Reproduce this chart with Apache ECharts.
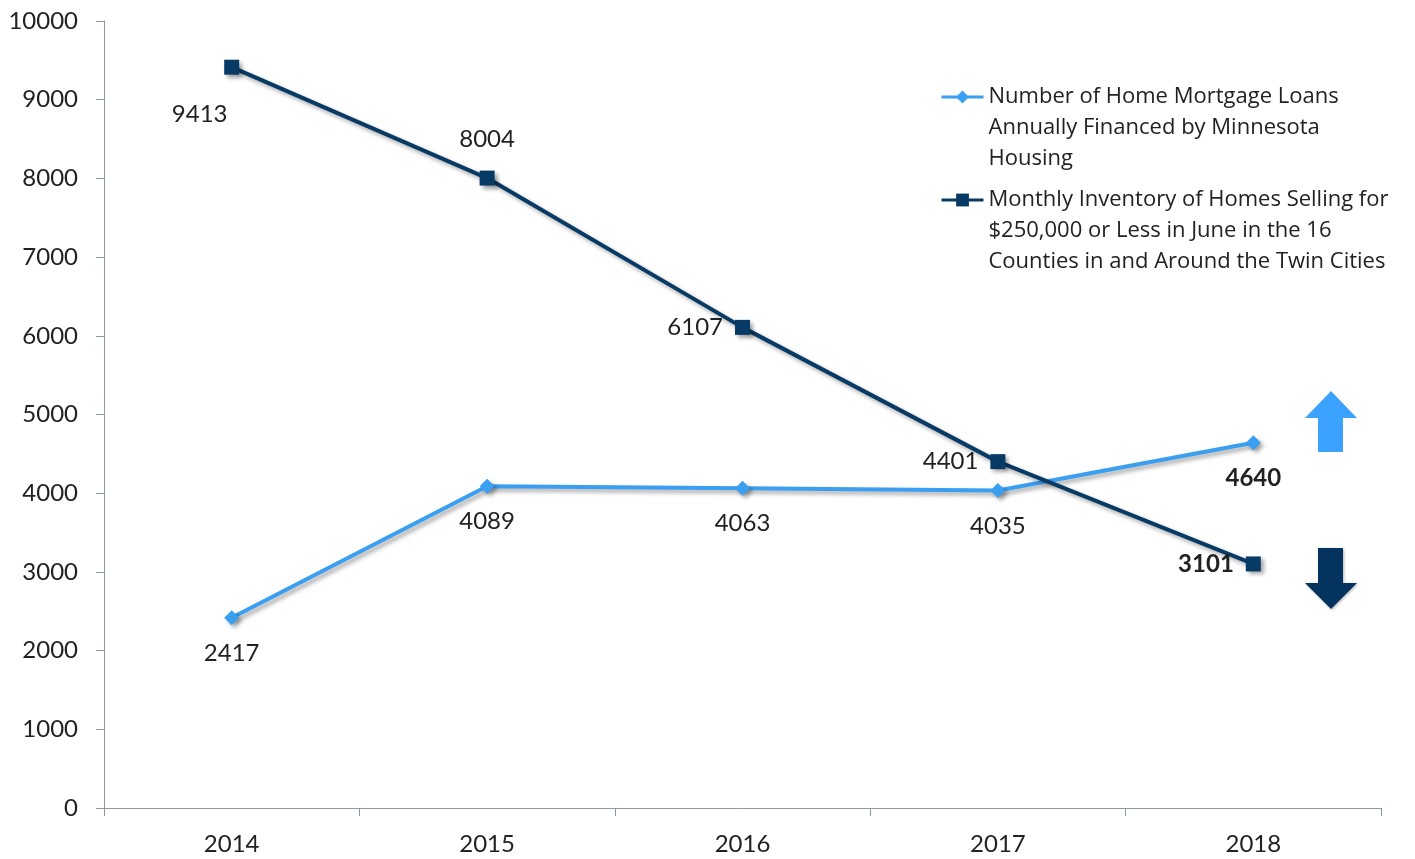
<!DOCTYPE html>
<html><head><meta charset="utf-8">
<script src="https://cdn.jsdelivr.net/npm/echarts@6/dist/echarts.min.js"></script>
<style>html,body{margin:0;padding:0;background:#fff}#c{width:1415px;height:859px}</style>
</head><body><div id="c"></div>
<script>
const categories = ['2014','2015','2016','2017','2018'];
const loans = [2417, 4089, 4063, 4035, 4640];
const inventory = [9413, 8004, 6107, 4401, 3101];
const yTicks = [0,1000,2000,3000,4000,5000,6000,7000,8000,9000,10000];
const loansName = 'Number of Home Mortgage Loans\nAnnually Financed by Minnesota\nHousing';
const invName = 'Monthly Inventory of Homes Selling for\n$250,000 or Less in June in the 16\nCounties in and Around the Twin Cities';

const LIGHT = '#3a9ff0';
const DARK = '#083a66';
const FONT = 'Lato';

const loansLabelPos = ['bottom','bottom','bottom','bottom','bottom'];
const invLabelPos = [[-32,47],'top','left','left','left'];
const boldLast = (i) => i === 4 ? 'bold' : 'normal';

function mkData(vals, pos) {
  return vals.map((v, i) => {
    const p = pos[i];
    const lab = { fontWeight: boldLast(i) };
    if (Array.isArray(p)) { lab.position = 'inside'; lab.offset = p; }
    else { lab.position = p; if (p === 'top') lab.distance = 19; }
    return { value: v, label: lab };
  });
}

const chart = echarts.init(document.getElementById('c'));
const shadow = { shadowColor: 'rgba(0,0,0,0.35)', shadowBlur: 4, shadowOffsetX: 3, shadowOffsetY: 3 };
const legendText = { fontFamily: 'Open Sans', fontSize: 22, color: '#222', lineHeight: 31 };
const legendFmt = (n) => ' \n \n' + n;
const legendBase = { orient: 'vertical', left: 940, padding: 0, itemWidth: 42, itemHeight: 16, textStyle: legendText, formatter: legendFmt, lineStyle: { width: 3 } };
chart.setOption({
  animation: false,
  grid: { left: 104, right: 34, top: 21, bottom: 51 },
  legend: [
    Object.assign({ data: [loansName], top: 19.5 }, legendBase),
    Object.assign({ data: [invName], top: 122.5 }, legendBase)
  ],
  xAxis: {
    type: 'category', data: categories, boundaryGap: true,
    axisLine: { lineStyle: { color: '#8c97a8', width: 1 } },
    axisTick: { show: true, length: 8, lineStyle: { color: '#8c97a8' } },
    axisLabel: { fontFamily: FONT, fontSize: 24, color: '#222', margin: 24 }
  },
  yAxis: {
    type: 'value', min: yTicks[0], max: yTicks[yTicks.length-1], interval: 1000,
    splitLine: { show: false },
    axisLine: { show: true, lineStyle: { color: '#8c97a8', width: 1 } },
    axisTick: { show: true, length: 8, lineStyle: { color: '#8c97a8' } },
    axisLabel: { fontFamily: FONT, fontSize: 24, color: '#222', margin: 26, formatter: (v) => String(v) }
  },
  series: [
    {
      name: loansName, type: 'line', data: mkData(loans, loansLabelPos),
      symbol: 'diamond', symbolSize: 15,
      lineStyle: Object.assign({ color: LIGHT, width: 4 }, shadow),
      itemStyle: Object.assign({ color: LIGHT }, shadow),
      label: { show: true, fontFamily: FONT, fontSize: 24, color: '#222', distance: 16 }
    },
    {
      name: invName, type: 'line', data: mkData(inventory, invLabelPos),
      symbol: 'rect', symbolSize: 15,
      lineStyle: Object.assign({ color: DARK, width: 4 }, shadow),
      itemStyle: Object.assign({ color: DARK }, shadow),
      label: { show: true, fontFamily: FONT, fontSize: 24, color: '#222', distance: 12 }
    }
  ],
  graphic: [
    { type: 'polygon', shape: { points: [[1318,452],[1343,452],[1343,418],[1357,418],[1331,391],[1305,418],[1318,418]] }, style: { fill: '#3ba3ff' } },
    { type: 'polygon', shape: { points: [[1318,548],[1343,548],[1343,583],[1357,583],[1331,609],[1305,583],[1318,583]] }, style: { fill: '#04335f', shadowColor: 'rgba(0,0,0,0.3)', shadowBlur: 3, shadowOffsetX: 1, shadowOffsetY: 1 } }
  ]
});
</script></body></html>
